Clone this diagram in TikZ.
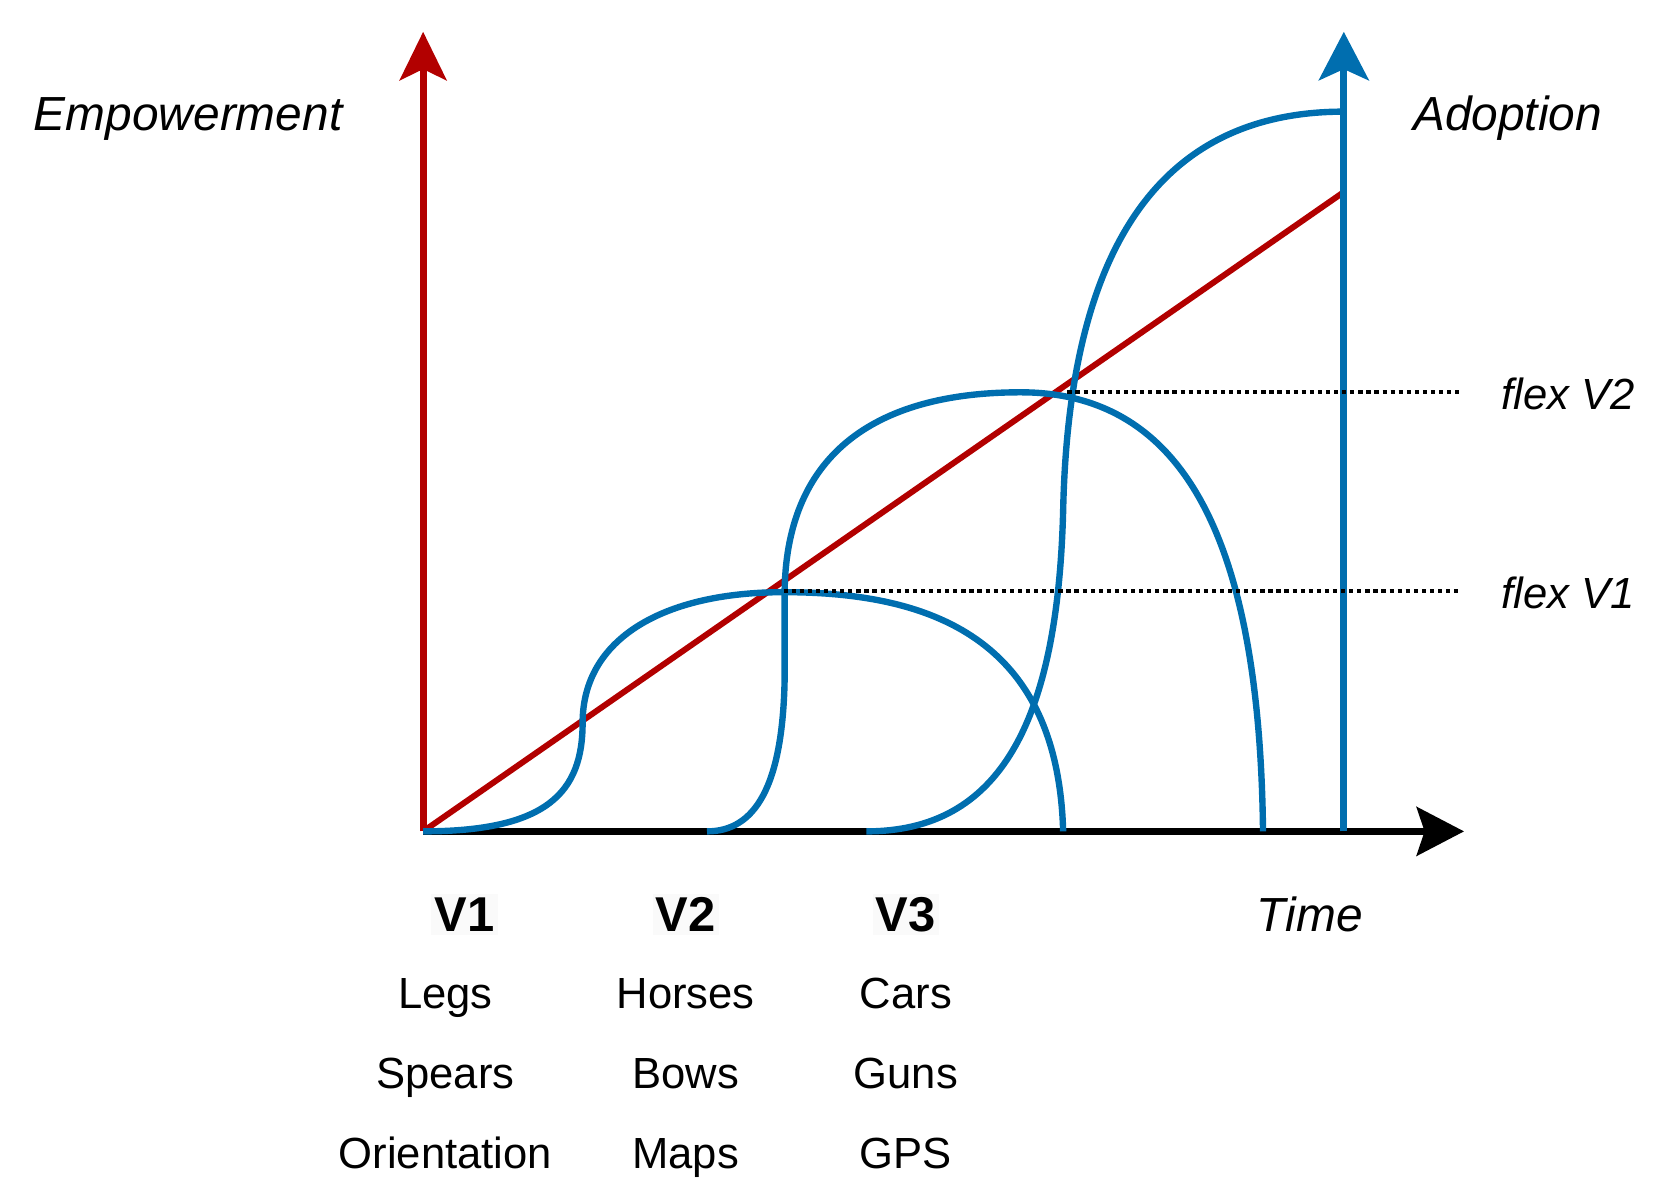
\documentclass[tikz,border=0pt]{standalone}
\usepackage{fontspec}
\setmainfont{Liberation Sans}
\usetikzlibrary{arrows.meta}
\definecolor{axred}{HTML}{B20000}
\definecolor{axblue}{HTML}{006EAF}
\begin{document}
\begin{tikzpicture}[x=0.5pt,y=-0.5pt,
  redaxis/.style={draw=axred, line width=3.4pt, -{Stealth[length=23pt,width=22.5pt,inset=5.5pt,line width=0pt]}},
  blueaxis/.style={draw=axblue, line width=3.4pt, -{Stealth[length=23pt,width=24pt,inset=5.5pt,line width=0pt]}},
  timeaxis/.style={draw=black, line width=3.6pt, -{Stealth[length=22.5pt,width=23.5pt,inset=4pt,line width=0pt]}},
  redline/.style={draw=axred, line width=2.8pt},
  bluecurve/.style={draw=axblue, line width=3pt},
  flexline/.style={draw=black, line width=1.7pt, dash pattern=on 2pt off 1.8pt},
  ilabel/.style={font=\fontsize{22.5}{27}\selectfont\itshape, inner sep=0pt, anchor=base},
  flabel/.style={font=\fontsize{20.5}{25}\selectfont\itshape, inner sep=0pt, anchor=base west},
  hdr/.style={font=\fontsize{23}{27}\selectfont\bfseries, anchor=base, fill=black!2, inner sep=1.5pt},
  item/.style={font=\fontsize{20.5}{25}\selectfont, inner sep=0pt, anchor=base}
]
\useasboundingbox (0,0) rectangle (1568,1123);

% coordinates
\coordinate (O) at (398,782);
\coordinate (redtop) at (398,30);
\coordinate (timeend) at (1377,782);
\coordinate (bluebase) at (1264,782);
\coordinate (bluetop) at (1264,30);
\coordinate (redend) at (1262,182);
\coordinate (v2start) at (665,782);
\coordinate (v3start) at (815,782);
\coordinate (v1end) at (1000,782);
\coordinate (v2end) at (1188,782);
\coordinate (v3end) at (1264,105);
\coordinate (flexA) at (737,556);
\coordinate (flexAend) at (1372,556);
\coordinate (flexB) at (1004,369);
\coordinate (flexBend) at (1372,369);

% axes
\draw[redaxis] (O) -- (redtop);
\draw[timeaxis] (O) -- (timeend);
\draw[redline] (O) -- (redend);
\draw[blueaxis] (bluebase) -- (bluetop);

% V1 curve
\draw[bluecurve] (O) .. controls (515,782) and (548,745) .. (548,680)
  .. controls (548,600) and (625,557) .. (737,557)
  .. controls (875,557) and (995,600) .. (v1end);
% V2 curve
\draw[bluecurve] (v2start) .. controls (710,782) and (736,740) .. (738,640)
  -- (738,560)
  .. controls (738,430) and (820,369) .. (960,369)
  .. controls (1120,369) and (1185,520) .. (v2end);
% V3 curve
\draw[bluecurve] (v3start) .. controls (940,782) and (995,680) .. (1000,480)
  .. controls (1005,250) and (1080,105) .. (v3end);

% flex lines
\draw[flexline] (flexA) -- (flexAend);
\draw[flexline] (flexB) -- (flexBend);

% labels
\node[ilabel] (emp) at (177,123) {Empowerment};
\node[ilabel] (adopt) at (1418,123) {Adoption};
\node[flabel] (fv2) at (1412,385) {flex V2};
\node[flabel] (fv1) at (1412,572) {flex V1};
\node[ilabel] (time) at (1232,876) {Time};

\node[hdr] (h1) at (437,876) {V1};
\node[hdr] (h2) at (645,876) {V2};
\node[hdr] (h3) at (852,876) {V3};

\node[item] (legs) at (419,949) {Legs};
\node[item] (spears) at (419,1024) {Spears};
\node[item] (orient) at (419,1099) {Orientation};
\node[item] (horses) at (645,949) {Horses};
\node[item] (bows) at (645,1024) {Bows};
\node[item] (maps) at (645,1099) {Maps};
\node[item] (cars) at (852,949) {Cars};
\node[item] (guns) at (852,1024) {Guns};
\node[item] (gps) at (852,1099) {GPS};
\end{tikzpicture}
\end{document}
